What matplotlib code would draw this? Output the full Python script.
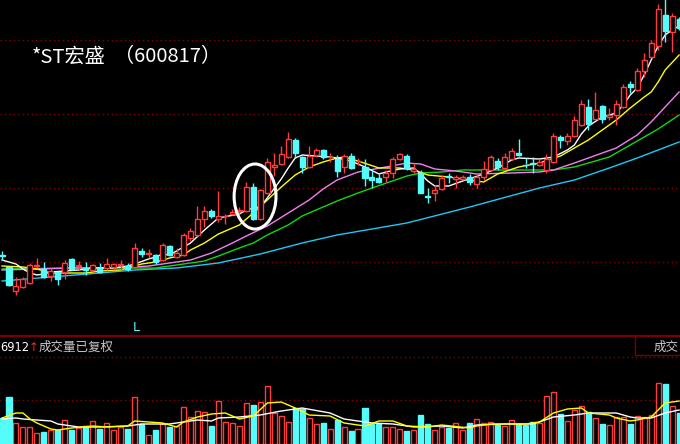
import matplotlib
matplotlib.use('Agg')
import matplotlib.pyplot as plt
from matplotlib.patches import Ellipse
from matplotlib.lines import Line2D
import numpy as np

plt.rcParams['font.family'] = ['Noto Sans CJK SC', 'DejaVu Sans']

# ---------------- data ----------------
opens = [14.5, 13.3, 10.9, 11.3, 11.7, 13.45, 13.1, 12.4, 12.8, 12.8,
         14.1, 13.45, 13.2, 13.0, 13.2, 13.2, 13.3, 13.55, 13.4, 13.3,
         14.9, 14.65, 14.5, 14.0, 15.4, 14.3, 14.5, 16.2, 16.5, 18.1,
         18.9, 18.1, 18.35, 18.6, 18.95, 18.9, 21.3, 18.1, 20.7, 23.3,
         23.6, 24.3, 26.0, 24.3, 23.3, 24.5, 25.0, 24.25, 24.1, 23.3,
         24.4, 23.85, 23.3, 22.3, 22.2, 22.3, 22.7, 24.1, 24.4, 22.9,
         22.7, 20.35, 20.7, 21.1, 22.35, 22.1, 22.1, 22.3, 21.6, 22.3,
         23.0, 23.9, 23.2, 24.1, 24.7, 23.55, 23.65, 23.5, 23.0, 23.8,
         26.3, 25.9, 26.4, 27.5, 29.3, 28.1, 29.4, 28.3, 28.5, 29.3,
         31.6, 31.0, 32.9, 34.3, 35.4, 38.5, 36.8, 38.1]
highs = [14.9, 13.4, 12.3, 12.3, 13.7, 14.2, 13.8, 13.2, 12.9, 14.0,
         14.2, 13.9, 13.8, 13.6, 13.7, 14.2, 13.7, 14.0, 13.7, 15.7,
         15.2, 15.1, 14.6, 15.7, 15.5, 15.2, 16.7, 17.2, 19.4, 19.4,
         19.1, 20.9, 18.6, 19.1, 19.3, 21.8, 21.7, 21.1, 24.2, 24.7,
         25.4, 26.8, 26.2, 24.4, 25.4, 25.2, 25.1, 24.7, 24.5, 24.6,
         24.7, 24.2, 24.1, 23.0, 22.6, 23.0, 24.3, 24.7, 24.6, 23.7,
         23.0, 21.2, 21.5, 22.5, 22.7, 22.5, 22.5, 22.6, 22.7, 23.9,
         24.5, 24.2, 24.7, 25.2, 26.1, 24.2, 24.3, 24.1, 24.6, 26.7,
         26.5, 26.7, 28.4, 30.0, 30.1, 30.8, 29.5, 29.2, 30.0, 31.6,
         31.9, 33.2, 34.7, 36.0, 39.6, 40.2, 38.7, 38.3]
lows = [14.0, 11.4, 10.5, 11.2, 11.6, 13.2, 12.2, 11.9, 11.5, 12.1,
        13.0, 13.0, 12.5, 12.9, 12.7, 13.0, 13.0, 13.0, 12.9, 13.2,
        14.3, 14.2, 13.6, 13.9, 14.4, 14.2, 14.4, 15.9, 16.4, 17.3,
        18.2, 17.8, 17.6, 18.5, 18.6, 18.8, 18.0, 18.0, 20.6, 22.4,
        23.5, 24.2, 24.3, 22.7, 23.2, 24.3, 24.1, 23.8, 22.3, 22.7,
        23.1, 23.5, 21.4, 21.2, 21.7, 21.8, 22.2, 24.0, 23.0, 22.7,
        20.7, 19.7, 19.9, 21.0, 21.7, 21.2, 22.0, 21.5, 21.2, 22.0,
        22.9, 23.0, 23.1, 24.0, 24.4, 23.2, 22.7, 23.4, 22.7, 23.7,
        25.2, 25.5, 26.3, 27.4, 27.0, 28.0, 27.7, 28.0, 27.5, 29.2,
        30.7, 30.9, 32.3, 34.2, 35.0, 35.8, 34.8, 37.0]
closes = [14.4, 11.5, 11.4, 12.1, 13.5, 13.5, 12.3, 12.9, 12.1, 13.7,
          13.1, 13.5, 13.0, 13.5, 12.8, 13.6, 13.6, 13.6, 13.1, 15.2,
          14.6, 14.7, 13.8, 15.5, 14.5, 14.7, 16.5, 16.9, 18.1, 18.9,
          18.4, 18.4, 18.4, 18.8, 19.0, 21.3, 18.1, 21.0, 23.8, 23.5,
          24.6, 26.1, 24.7, 23.3, 24.4, 25.0, 24.3, 24.3, 22.9, 24.4,
          23.2, 23.9, 22.2, 22.0, 21.8, 22.7, 24.1, 24.6, 23.2, 23.1,
          20.7, 20.3, 21.0, 22.2, 22.3, 22.3, 22.3, 21.8, 22.3, 23.1,
          24.3, 23.3, 24.3, 24.9, 24.5, 23.5, 23.6, 23.8, 24.1, 26.4,
          26.0, 26.4, 28.0, 29.6, 27.6, 29.0, 28.1, 28.5, 29.6, 31.3,
          31.3, 32.9, 34.0, 35.7, 39.1, 36.9, 38.4, 37.2]
volumes = [26, 47, 21, 17, 17, 11, 12, 14, 14, 24,
           14, 16, 18, 23, 15, 21, 14, 17, 15, 47,
           20, 9, 14, 20, 17, 18, 37, 27, 33, 32,
           18, 43, 22, 21, 18, 41, 39, 42, 58, 31,
           28, 22, 36, 35, 26, 20, 21, 15, 24, 17,
           13, 15, 36, 20, 20, 17, 17, 15, 13, 14,
           29, 20, 14, 17, 16, 21, 14, 21, 25, 21,
           22, 19, 18, 24, 20, 19, 22, 21, 48, 52,
           30, 23, 34, 38, 32, 26, 20, 19, 27, 27,
           20, 28, 27, 29, 61, 60, 38, 31]

ma5_idx = [0, 2, 3, 4, 5, 6, 7, 9, 11, 13, 16, 18, 19, 21, 22, 23, 24, 26, 27, 29,
           31, 34, 35, 36, 37, 38, 40, 41, 42, 43, 45, 47, 48, 50, 52, 54, 55, 57, 59, 60,
           61, 62, 64, 66, 69, 71, 73, 74, 77, 79, 81, 82, 83, 84, 86, 88, 89, 90, 91, 92,
           93, 94, 95, 96, 97]
ma5_val = [14.0, 13.6, 13.1, 12.7, 12.5, 12.6, 12.8, 12.9, 13.0, 13.2, 13.2, 13.4, 13.6, 14.1, 14.3, 14.6, 14.5, 15.3, 15.7, 17.0,
           18.2, 18.6, 19.0, 19.2, 19.3, 20.2, 22.1, 23.2, 24.2, 24.5, 24.4, 24.3, 24.2, 23.9, 23.3, 22.6, 22.8, 23.1, 23.2, 22.6,
           21.9, 21.4, 21.4, 21.9, 22.6, 23.2, 24.0, 24.2, 24.1, 24.3, 25.0, 25.5, 26.6, 27.4, 28.3, 28.7, 29.5, 30.5, 31.2, 32.5,
           34.0, 35.4, 36.5, 37.0, 37.4]
ma10_idx = [0, 3, 5, 7, 10, 12, 14, 17, 19, 20, 22, 24, 26, 27, 29, 31, 34, 36, 38, 40,
            42, 44, 46, 48, 49, 51, 54, 57, 59, 61, 64, 68, 69, 71, 74, 77, 80, 82, 84, 86,
            88, 90, 92, 93, 94, 95, 97]
ma10_val = [13.4, 13.3, 13.1, 12.7, 12.7, 12.7, 12.9, 13.0, 13.4, 13.6, 13.8, 14.2, 14.5, 15.0, 15.7, 16.6, 17.5, 18.7, 20.0, 21.3,
            22.5, 23.3, 23.8, 24.2, 24.3, 23.9, 23.2, 23.2, 23.0, 22.5, 22.3, 21.9, 21.8, 22.6, 23.3, 23.7, 24.4, 25.2, 26.0, 27.0,
            28.0, 29.2, 30.3, 30.8, 31.8, 33.0, 34.5]
ma20_idx = [0, 5, 10, 14, 19, 21, 24, 27, 30, 33, 35, 38, 41, 44, 46, 48, 51, 55, 58, 60,
            62, 65, 68, 73, 77, 79, 82, 86, 88, 91, 93, 95, 97]
ma20_val = [13.0, 13.1, 13.2, 13.2, 13.3, 13.4, 13.7, 14.0, 14.7, 15.7, 16.4, 17.4, 18.7, 20.0, 21.1, 22.0, 22.8, 23.3, 23.7, 23.6,
            23.1, 22.9, 22.6, 22.7, 22.8, 23.0, 23.7, 24.7, 25.2, 26.5, 27.8, 29.3, 30.8]
ma30_idx = [0, 10, 19, 22, 24, 29, 31, 34, 36, 38, 41, 43, 46, 48, 51, 53, 58, 60, 63, 66,
            79, 82, 87, 91, 94, 97]
ma30_val = [13.1, 13.2, 13.2, 13.2, 13.4, 13.9, 14.4, 15.2, 15.7, 16.5, 17.5, 18.4, 19.3, 19.9, 20.7, 21.2, 22.4, 22.7, 22.8, 23.0,
            23.0, 23.3, 24.3, 25.9, 27.1, 28.5]
ma60_idx = [0, 14, 19, 25, 31, 37, 43, 48, 58, 67, 77, 82, 87, 91, 97]
ma60_val = [11.9, 12.7, 13.0, 13.2, 13.7, 14.6, 15.7, 16.5, 17.7, 19.3, 21.2, 22.0, 23.2, 24.2, 25.8]

# volume moving averages (sampled points)
vma_w_idx = [0, 2, 3, 5, 7, 8, 11, 14, 18, 20, 24, 25, 28, 30, 31, 34, 37, 40, 43, 47,
             49, 53, 56, 59, 63, 66, 68, 72, 76, 77, 79, 82, 84, 88, 90, 91, 93, 95, 97]
vma_w_val = [25, 26, 25, 24, 23, 20, 17, 17, 18, 20, 20, 21, 24, 23, 26, 27, 29, 33, 36, 31,
             25, 21, 20, 17, 18, 16, 19, 20, 20, 22, 27, 29, 31, 31, 27, 26, 26, 31, 34]
vma_y_idx = [0, 2, 3, 4, 5, 7, 8, 10, 13, 15, 18, 19, 21, 23, 25, 26, 28, 30, 32, 34,
             36, 38, 40, 42, 44, 47, 49, 52, 54, 56, 58, 61, 63, 67, 68, 70, 75, 77, 79, 81,
             83, 84, 87, 88, 90, 91, 93, 95, 97]
vma_y_val = [26, 31, 31, 25, 21, 15, 14, 16, 18, 17, 18, 23, 22, 21, 17, 22, 27, 30, 31, 25,
             28, 41, 42, 36, 29, 28, 21, 18, 23, 23, 18, 17, 19, 16, 18, 20, 20, 22, 31, 35,
             36, 31, 29, 26, 23, 24, 27, 41, 43]

price_grid = [36.0, 28.6, 21.2, 13.8]
vol_grid = [87, 44]

title_name = '*ST宏盛'
title_code = '（600817）'
vol_label_value = '6912'
vol_label_text = '成交量已复权'
right_box_text = '成交'
marker_text = 'L'
ring_candle = 36

# ---------------- style ----------------
RED = '#ff3c3c'
CYAN = '#54fcfc'
GRID = '#8c0000'
DIV = '#7a0000'
W, H = 680, 444

fig = plt.figure(figsize=(6.8, 4.44), dpi=100, facecolor='black')
ax = fig.add_axes([0, 1 - 336 / H, 1, 336 / H])
axv = fig.add_axes([0, 0, 1, 88 / H])
for a in (ax, axv):
    a.set_facecolor('black')
    a.set_axis_off()

n = len(opens)
x = np.arange(n)
o = np.array(opens); c = np.array(closes)
h = np.array(highs); l = np.array(lows)
v = np.array(volumes)
up = c >= o
top = np.maximum(o, c)
bot = np.minimum(o, c)
bh = np.maximum(top - bot, 0.04)
bw = 0.72

# grid
for g in price_grid:
    ax.axhline(g, color=GRID, lw=1.0, ls=(0, (1, 2.2)), zorder=0)
for g in vol_grid:
    axv.axhline(g, color=GRID, lw=1.0, ls=(0, (1, 2.2)), zorder=0)

# moving averages
ax.plot(ma60_idx, ma60_val, color='#1ec8f5', lw=1.0, zorder=1)
ax.plot(ma30_idx, ma30_val, color='#10d810', lw=1.0, zorder=1)
ax.plot(ma20_idx, ma20_val, color='#f080f0', lw=1.0, zorder=1)
ax.plot(ma10_idx, ma10_val, color='#ffff00', lw=1.0, zorder=1)
ax.plot(ma5_idx, ma5_val, color='white', lw=1.0, zorder=1)

# candles
cols = np.where(up, RED, CYAN)
ax.vlines(x, top, h, colors=cols, lw=1.0, zorder=2)
ax.vlines(x, l, bot, colors=cols, lw=1.0, zorder=2)
ax.bar(x[up], bh[up], bottom=bot[up], width=bw, facecolor='black', edgecolor=RED, lw=1.0, zorder=3)
ax.bar(x[~up], bh[~up], bottom=bot[~up], width=bw, facecolor=CYAN, edgecolor=CYAN, lw=1.0, zorder=3)

ax.set_xlim(-0.29, 97.13)
ax.set_ylim(6.4, 40.0)

# highlight ring
ring = Ellipse((ring_candle + 0.25, (h[ring_candle - 1] + l[ring_candle]) / 2 + 0.45),
               width=6.0, height=6.5, fill=False, edgecolor='white', lw=2.2, zorder=4)
ax.add_patch(ring)

# volume
axv.bar(x[up], v[up], width=bw, facecolor='black', edgecolor=RED, lw=1.0, zorder=2)
axv.bar(x[~up], v[~up], width=bw, facecolor=CYAN, edgecolor=CYAN, lw=1.0, zorder=2)
axv.plot(vma_w_idx, vma_w_val, color='white', lw=1.0, zorder=3)
axv.plot(vma_y_idx, vma_y_val, color='#ffff00', lw=1.0, zorder=3)
axv.set_xlim(-0.29, 97.13)
axv.set_ylim(0, 88)

def fx(px):
    return px / W

def fy(py):
    return 1 - py / H

# texts
fig.text(fx(32), fy(57), title_name, color='white', fontsize=14.5, va='center', ha='left')
fig.text(fx(114), fy(57), title_code, color='white', fontsize=14.5, va='center', ha='left')
fig.text(fx(133), fy(327), marker_text, color=CYAN, fontsize=9, va='center', ha='left',
         family='DejaVu Sans')
fig.text(fx(0.5), fy(347), vol_label_value, color='white', fontsize=8.3, va='center', ha='left',
         family='DejaVu Sans')
fig.text(fx(28.5), fy(347), '↑', color='#ff2020', fontsize=8.5, va='center', ha='left',
         family='DejaVu Sans')
fig.text(fx(39), fy(347), vol_label_text, color='#c8c8c8', fontsize=9, va='center', ha='left')
fig.text(fx(654), fy(347), right_box_text, color='#c8c8c8', fontsize=9, va='center', ha='left')

# divider lines
fig.add_artist(Line2D([0, 1], [fy(336), fy(336)], transform=fig.transFigure, color=DIV, lw=1.6))
fig.add_artist(Line2D([fx(634.5), fx(634.5)], [fy(336), fy(355)], transform=fig.transFigure, color=DIV, lw=1.0))
fig.add_artist(Line2D([fx(634.5), 1], [fy(355), fy(355)], transform=fig.transFigure, color=DIV, lw=1.0))

fig.savefig('out.png', dpi=100, facecolor='black')
